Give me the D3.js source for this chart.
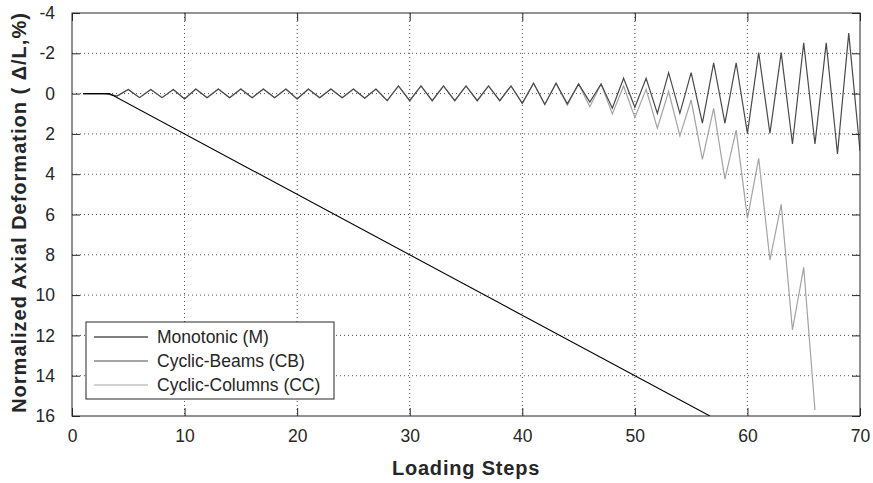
<!DOCTYPE html>
<html>
<head>
<meta charset="utf-8">
<script src="https://cdn.jsdelivr.net/npm/d3@7"></script>
<style>
  body { margin: 0; background: #fff; }
  text { font-family: "Liberation Sans", Arial, sans-serif; fill: #262626; }
</style>
</head>
<body>
<div id="chart"></div>
<script>
const xTicks = [0, 10, 20, 30, 40, 50, 60, 70];
const yTicks = [-4, -2, 0, 2, 4, 6, 8, 10, 12, 14, 16];

// monotonic: flat, then a straight ramp (clipped at 16)
const monoSteps = [1, 3.33, 56.67];
const monoValues = [0, 0, 16];

const cbSteps = [1, 2, 3, 4, 5, 6, 7, 8, 9, 10, 11, 12, 13, 14, 15, 16, 17, 18, 19, 20,
  21, 22, 23, 24, 25, 26, 27, 28, 29, 30, 31, 32, 33, 34, 35, 36, 37, 38, 39, 40,
  41, 42, 43, 44, 45, 46, 47, 48, 49, 50, 51, 52, 53, 54, 55, 56, 57, 58, 59, 60,
  61, 62, 63, 64, 65, 66, 67, 68, 69, 70];
const cbValues = [0, 0, 0, 0.12, -0.2, 0.2, -0.2, 0.2, -0.2, 0.27,
  -0.23, 0.2, -0.23, 0.2, -0.23, 0.2, -0.23, 0.2, -0.23, 0.27,
  -0.23, 0.2, -0.23, 0.2, -0.23, 0.23, -0.23, 0.35, -0.38, 0.35,
  -0.38, 0.35, -0.38, 0.35, -0.38, 0.35, -0.38, 0.35, -0.38, 0.48,
  -0.51, 0.53, -0.51, 0.5, -0.48, 0.42, -0.48, 0.73, -0.76, 0.68,
  -0.76, 0.98, -1.04, 0.98, -1.04, 1.47, -1.53, 1.47, -1.53, 1.97,
  -2.03, 1.97, -2.03, 2.5, -2.52, 2.5, -2.52, 3.0, -3.0, 2.85];

const ccSteps = [1, 2, 3, 4, 5, 6, 7, 8, 9, 10, 11, 12, 13, 14, 15, 16, 17, 18, 19, 20,
  21, 22, 23, 24, 25, 26, 27, 28, 29, 30, 31, 32, 33, 34, 35, 36, 37, 38, 39, 40,
  41, 42, 43, 44, 45, 46, 47, 48, 49, 50, 51, 52, 53, 54, 55, 56, 57, 58, 59, 60,
  61, 62, 63, 64, 65, 66];
const ccValues = [0, 0, 0, 0.12, -0.2, 0.2, -0.2, 0.2, -0.2, 0.27,
  -0.23, 0.2, -0.23, 0.2, -0.23, 0.2, -0.23, 0.2, -0.23, 0.27,
  -0.23, 0.2, -0.23, 0.2, -0.23, 0.23, -0.23, 0.35, -0.38, 0.35,
  -0.38, 0.35, -0.38, 0.35, -0.38, 0.35, -0.38, 0.35, -0.38, 0.48,
  -0.51, 0.55, -0.51, 0.57, -0.48, 0.65, -0.48, 1.01, -0.38, 1.18,
  -0.21, 1.72, -0.1, 2.1, 0.32, 3.26, 0.73, 4.24, 1.81, 6.19,
  3.21, 8.26, 5.5, 11.73, 8.62, 15.7];

const seriesNames = ["Monotonic (M)", "Cyclic-Beams (CB)", "Cyclic-Columns (CC)"];
const seriesColors = ["#000000", "#4a4a4a", "#a3a3a3"];

function renderChart() {
  const W = 873, H = 483;
  const margin = { top: 13, right: 13, bottom: 67, left: 72 };
  const w = W - margin.left - margin.right;
  const h = H - margin.top - margin.bottom;

  const svg = d3.select("#chart").append("svg")
    .attr("width", W).attr("height", H);

  const g = svg.append("g")
    .attr("transform", `translate(${margin.left},${margin.top})`);

  const x = d3.scaleLinear().domain([0, 70]).range([0, w]);
  const y = d3.scaleLinear().domain([-4, 16]).range([0, h]);

  // dotted grid
  g.append("g").selectAll("line").data(xTicks.slice(1, -1)).enter().append("line")
    .attr("x1", d => x(d)).attr("x2", d => x(d)).attr("y1", 0).attr("y2", h)
    .attr("stroke", "#262626").attr("stroke-dasharray", "1,3").attr("stroke-width", 0.8);
  g.append("g").selectAll("line").data(yTicks.slice(1, -1)).enter().append("line")
    .attr("y1", d => y(d)).attr("y2", d => y(d)).attr("x1", 0).attr("x2", w)
    .attr("stroke", "#262626").attr("stroke-dasharray", "1,3").attr("stroke-width", 0.8);

  g.append("clipPath").attr("id", "clip")
    .append("rect").attr("width", w).attr("height", h);

  const line = d3.line().x(d => x(d[0])).y(d => y(d[1]));
  const series = [
    d3.zip(monoSteps, monoValues),
    d3.zip(cbSteps, cbValues),
    d3.zip(ccSteps, ccValues)
  ];
  // draw lighter series first so darker ones sit on top
  [2, 1, 0].forEach(i => {
    g.append("path")
      .datum(series[i])
      .attr("clip-path", "url(#clip)")
      .attr("fill", "none")
      .attr("stroke", seriesColors[i])
      .attr("stroke-width", i === 0 ? 1.1 : 1.2)
      .attr("d", line);
  });

  // axes with inward ticks on all four sides
  const tickLen = 8;
  g.append("g").attr("transform", `translate(0,${h})`)
    .call(d3.axisBottom(x).tickValues(xTicks).tickSizeInner(-tickLen).tickSizeOuter(0).tickPadding(14));
  g.append("g")
    .call(d3.axisTop(x).tickValues(xTicks).tickSizeInner(-tickLen).tickSizeOuter(0).tickFormat(""));
  g.append("g")
    .call(d3.axisLeft(y).tickValues(yTicks).tickSizeInner(-tickLen).tickSizeOuter(0).tickPadding(17)
      .tickFormat(d => String(d)));
  g.append("g").attr("transform", `translate(${w},0)`)
    .call(d3.axisRight(y).tickValues(yTicks).tickSizeInner(-tickLen).tickSizeOuter(0).tickFormat(""));

  g.selectAll(".domain").remove();
  g.selectAll(".tick line").attr("stroke", "#262626");
  g.selectAll(".tick text")
    .style("font-size", "17.5px")
    .style("font-family", "'Liberation Sans', Arial, sans-serif")
    .attr("fill", "#262626");

  g.append("rect")
    .attr("width", w).attr("height", h)
    .attr("fill", "none").attr("stroke", "#262626").attr("stroke-width", 1);

  // axis titles
  svg.append("text")
    .attr("x", margin.left + w / 2).attr("y", 475)
    .attr("text-anchor", "middle")
    .style("font-size", "20px").style("font-weight", "bold").style("letter-spacing", "0.8px")
    .text("Loading Steps");

  svg.append("text")
    .attr("transform", `translate(26,${margin.top + h / 2 - 2}) rotate(-90)`)
    .attr("text-anchor", "middle")
    .style("font-size", "20px").style("font-weight", "bold").style("letter-spacing", "1px")
    .text("Normalized Axial Deformation ( \u0394/L,%)");

  // legend
  const legend = svg.append("g").attr("transform", "translate(86,322)");
  legend.append("rect")
    .attr("width", 248).attr("height", 77)
    .attr("fill", "#fff").attr("stroke", "#262626").attr("stroke-width", 1);
  const rows = legend.selectAll(".row").data(seriesNames).enter().append("g")
    .attr("class", "row")
    .attr("transform", (d, i) => `translate(0,${15 + i * 24})`);
  rows.append("line")
    .attr("x1", 8).attr("x2", 62)
    .attr("stroke", (d, i) => seriesColors[i])
    .attr("stroke-width", 1.2);
  rows.append("text")
    .attr("x", 71).attr("dy", "0.36em")
    .style("font-size", "17.5px")
    .text(d => d);
}

renderChart();
</script>
</body>
</html>
